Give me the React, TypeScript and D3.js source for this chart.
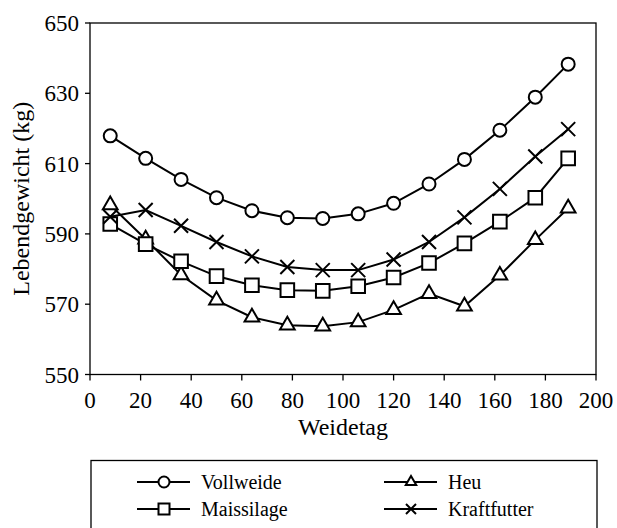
import React from 'react';
import * as d3 from 'd3';

const days = [8, 22, 36, 50, 64, 78, 92, 106, 120, 134, 148, 162, 176, 189];
const vollweide = [617.9, 611.5, 605.5, 600.3, 596.6, 594.6, 594.4, 595.7, 598.7, 604.2, 611.2, 619.5, 628.9, 638.3];
const heu = [598.2, 588.5, 578.3, 571.1, 566.3, 564.0, 563.7, 564.9, 568.4, 573.0, 569.4, 578.2, 588.3, 597.3];
const maissilage = [592.8, 587.1, 582.2, 578.0, 575.4, 574.0, 573.8, 575.1, 577.6, 581.7, 587.3, 593.5, 600.3, 611.5];
const kraftfutter = [594.9, 596.8, 592.3, 587.7, 583.6, 580.6, 579.7, 579.7, 582.7, 587.7, 594.7, 602.8, 612.0, 619.8];
const xTicks = [0, 20, 40, 60, 80, 100, 120, 140, 160, 180, 200];
const yTicks = [550, 570, 590, 610, 630, 650];

const seriesList = [
  { name: 'Vollweide', values: vollweide, marker: 'circle' },
  { name: 'Heu', values: heu, marker: 'triangle' },
  { name: 'Maissilage', values: maissilage, marker: 'square' },
  { name: 'Kraftfutter', values: kraftfutter, marker: 'x' },
];

const font = "'Liberation Serif', 'DejaVu Serif', serif";

function markerPath(type: string, s: number) {
  if (type === 'circle') return d3.symbol(d3.symbolCircle, Math.PI * s * s)()!;
  if (type === 'square') return d3.symbol(d3.symbolSquare, 4 * s * s)()!;
  if (type === 'triangle') {
    const side = s * 2.1;
    return d3.symbol(d3.symbolTriangle, (Math.sqrt(3) / 4) * side * side)()!;
  }
  return `M${-s},${-s}L${s},${s}M${-s},${s}L${s},${-s}`;
}

export default function App() {
  const margin = { left: 90, top: 23, right: 596, bottom: 374.5 };
  const x = d3.scaleLinear().domain([0, 200]).range([margin.left, margin.right]);
  const y = d3.scaleLinear().domain([550, 650]).range([margin.bottom, margin.top]);
  const line = d3.line<number>().x((d, i) => x(days[i])).y(d => y(d));

  const sizes: Record<string, number> = { circle: 6.5, square: 6.8, triangle: 7, x: 7 };

  const legendItems = [
    { s: seriesList[0], lx: 137, ly: 482 },
    { s: seriesList[1], lx: 384, ly: 482 },
    { s: seriesList[2], lx: 137, ly: 509 },
    { s: seriesList[3], lx: 384, ly: 509 },
  ];
  const legendSizes: Record<string, number> = { circle: 5.5, square: 5.5, triangle: 5, x: 5 };

  return (
    <>
      <style>{`body{margin:0} svg text{font-family:${font}}`}</style>
      <svg width={617} height={528} style={{ display: 'block' }} fontFamily={font}>
        <rect x={margin.left} y={margin.top} width={margin.right - margin.left} height={margin.bottom - margin.top}
          fill="none" stroke="#000" strokeWidth={1.3} />
        {xTicks.map(t => (
          <g key={'x' + t}>
            <line x1={x(t)} x2={x(t)} y1={margin.bottom} y2={margin.bottom + 6} stroke="#000" strokeWidth={1.3} />
            <text x={x(t)} y={408} textAnchor="middle" fontSize={23}>{t}</text>
          </g>
        ))}
        {yTicks.map(t => (
          <g key={'y' + t}>
            <line x1={margin.left - 5} x2={margin.left} y1={y(t)} y2={y(t)} stroke="#000" strokeWidth={1.3} />
            <text x={79} y={y(t)} dy="0.35em" textAnchor="end" fontSize={23}>{t}</text>
          </g>
        ))}
        <text x={(margin.left + margin.right) / 2} y={435} textAnchor="middle" fontSize={24}>Weidetag</text>
        <text transform={`translate(29,${(margin.top + margin.bottom) / 2}) rotate(-90)`} textAnchor="middle" fontSize={24}>
          Lebendgewicht (kg)
        </text>

        {seriesList.map(s => (
          <path key={'l' + s.name} d={line(s.values)!} fill="none" stroke="#000" strokeWidth={2} />
        ))}
        {seriesList.map(s => (
          <g key={'m' + s.name}>
            {s.values.map((v, i) => (
              <path key={i} transform={`translate(${x(days[i])},${y(v)})`} d={markerPath(s.marker, sizes[s.marker])}
                fill="#fff" stroke="#000" strokeWidth={2} />
            ))}
          </g>
        ))}

        <rect x={91} y={460.5} width={506} height={80} fill="none" stroke="#000" strokeWidth={1.3} />
        {legendItems.map(({ s, lx, ly }) => (
          <g key={'lg' + s.name}>
            <line x1={lx} x2={lx + 53} y1={ly} y2={ly} stroke="#000" strokeWidth={2} />
            <path transform={`translate(${lx + 27},${ly})`} d={markerPath(s.marker, legendSizes[s.marker])}
              fill="#fff" stroke="#000" strokeWidth={2} />
            <text x={lx + 64} y={ly} dy="0.33em" fontSize={20}>{s.name}</text>
          </g>
        ))}
      </svg>
    </>
  );
}
